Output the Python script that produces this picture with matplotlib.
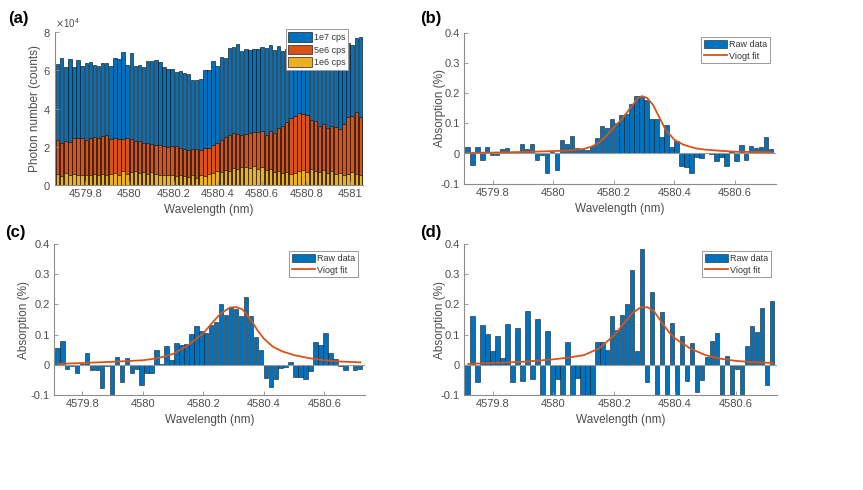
import numpy as np
import matplotlib
matplotlib.use("Agg")
import matplotlib.pyplot as plt
from matplotlib.ticker import ScalarFormatter

plt.rcParams['font.family'] = ['Liberation Sans', 'DejaVu Sans']

# ---------------- data ----------------
# panel (a): photon counts (x 1e4) on a 75-point wavelength grid
wl_a = np.linspace(4579.675, 4581.045, 75)
counts_1e7 = [6.35, 6.65, 6.2, 6.6, 6.2, 6.55, 6.25, 6.4, 6.45, 6.3,
              6.25, 6.4, 6.4, 6.25, 6.65, 6.6, 6.95, 6.3, 6.9, 6.25,
              6.3, 6.2, 6.5, 6.5, 6.55, 6.45, 6.2, 6.1, 6.1, 5.9,
              5.95, 5.85, 5.8, 5.5, 5.5, 5.55, 6.0, 6.05, 6.5, 6.25,
              6.7, 6.65, 7.2, 7.25, 7.4, 7.0, 7.1, 7.05, 7.15, 7.1,
              7.25, 7.2, 7.35, 7.05, 7.3, 7.0, 7.1, 7.05, 7.05, 6.85,
              7.2, 7.05, 7.1, 6.85, 7.0, 6.85, 7.05, 7.0, 7.25, 7.1,
              7.2, 7.45, 7.35, 7.7, 7.75]
counts_5e6 = [2.35, 2.2, 2.3, 2.25, 2.45, 2.45, 2.45, 2.35, 2.45, 2.5,
              2.45, 2.55, 2.6, 2.4, 2.45, 2.4, 2.4, 2.45, 2.4, 2.3,
              2.3, 2.2, 2.2, 2.15, 2.1, 2.1, 2.05, 2.0, 2.05, 2.05,
              1.95, 1.9, 1.85, 1.9, 1.9, 1.85, 1.95, 1.95, 2.1, 2.2,
              2.35, 2.5, 2.6, 2.7, 2.65, 2.6, 2.65, 2.75, 2.8, 2.8,
              2.85, 2.6, 2.85, 2.75, 3.0, 3.1, 3.3, 3.5, 3.6, 3.75,
              3.7, 3.65, 3.4, 3.35, 3.1, 3.2, 3.0, 3.1, 3.05, 2.95,
              3.2, 3.55, 3.6, 3.8, 3.55]
counts_1e6 = [0.6, 0.45, 0.65, 0.5, 0.6, 0.55, 0.5, 0.55, 0.55, 0.6,
              0.5, 0.6, 0.55, 0.6, 0.65, 0.55, 0.75, 0.6, 0.7, 0.75,
              0.65, 0.7, 0.6, 0.7, 0.6, 0.55, 0.5, 0.5, 0.55, 0.45,
              0.5, 0.45, 0.4, 0.5, 0.35, 0.55, 0.45, 0.6, 0.65, 0.75,
              0.7, 0.8, 0.75, 0.9, 0.85, 0.95, 0.95, 0.9, 1.0, 0.85,
              0.95, 0.8, 0.85, 0.7, 0.75, 0.65, 0.7, 0.6, 0.65, 0.75,
              0.8, 0.7, 0.85, 0.75, 0.7, 0.8, 0.65, 0.75, 0.6, 0.65,
              0.55, 0.6, 0.7, 0.6, 0.55]
SCALE = 1e4
series_a_labels = ['1e7 cps', '5e6 cps', '1e6 cps']

# panels (b)-(d): absorption (%) on a 62-point grid
wl_abs = np.linspace(4579.717, 4580.719, 62)
abs_b = [0.022, -0.038, 0.02, -0.022, 0.02, -0.005, -0.005, 0.015, 0.017, 0.005,
         0.005, 0.03, 0.015, 0.033, -0.02, -0.005, -0.065, 0.005, -0.053, 0.045,
         0.03, 0.058, 0.018, 0.015, 0.012, 0.025, 0.052, 0.09, 0.085, 0.115,
         0.1, 0.127, 0.13, 0.163, 0.19, 0.19, 0.178, 0.115, 0.115, 0.053,
         0.095, 0.02, 0.04, -0.04, -0.045, -0.065, -0.01, -0.015, 0.0, -0.002,
         -0.025, -0.012, -0.04, 0.008, -0.025, 0.027, -0.022, 0.025, 0.018, 0.022,
         0.053, 0.015]
abs_c = [0.055, 0.08, -0.015, -0.005, -0.027, 0.002, 0.04, -0.017, -0.017, -0.077,
         -0.005, -0.105, 0.027, -0.057, 0.022, -0.028, -0.013, -0.068, -0.028, -0.028,
         0.048, 0.003, 0.062, 0.015, 0.072, 0.065, 0.07, 0.103, 0.128, 0.112,
         0.105, 0.133, 0.143, 0.2, 0.165, 0.19, 0.185, 0.163, 0.225, 0.16,
         0.093, 0.05, -0.045, -0.072, -0.048, -0.012, -0.008, 0.01, -0.04, -0.042,
         -0.047, -0.022, 0.075, 0.065, 0.105, 0.04, 0.018, -0.005, -0.017, 0.0,
         -0.017, -0.013]
abs_d = [-0.12, 0.162, -0.057, 0.133, 0.103, 0.045, 0.095, 0.022, 0.135, -0.057,
         0.123, -0.055, 0.177, -0.047, 0.153, -0.12, 0.113, -0.12, -0.047, -0.12,
         0.075, -0.12, -0.045, -0.12, -0.12, -0.12, 0.075, 0.075, 0.05, 0.162,
         0.115, 0.165, 0.2, 0.315, 0.045, 0.385, -0.057, 0.24, -0.12, 0.175,
         -0.12, 0.14, -0.12, 0.095, -0.053, 0.072, -0.09, -0.05, 0.025, 0.078,
         0.105, -0.12, 0.03, -0.12, -0.015, -0.12, 0.063, 0.127, 0.108, 0.188,
         -0.068, 0.21]

# Voigt fit curves
fit_b_x = [4579.72, 4579.8, 4579.9, 4580.0, 4580.05, 4580.1, 4580.125, 4580.15, 4580.17,
           4580.2, 4580.23, 4580.26, 4580.28, 4580.293, 4580.31, 4580.33, 4580.35, 4580.37,
           4580.4, 4580.43, 4580.47, 4580.5, 4580.55, 4580.6, 4580.65, 4580.72]
fit_b_y = [0.002, 0.003, 0.005, 0.008, 0.010, 0.015, 0.022, 0.035, 0.053,
           0.085, 0.118, 0.158, 0.183, 0.190, 0.184, 0.160, 0.120, 0.080,
           0.045, 0.029, 0.017, 0.013, 0.009, 0.006, 0.005, 0.004]
fit_c_x = [4579.72, 4579.8, 4579.9, 4580.0, 4580.05, 4580.1, 4580.15, 4580.2, 4580.23,
           4580.26, 4580.29, 4580.31, 4580.33, 4580.36, 4580.38, 4580.4, 4580.43, 4580.46,
           4580.5, 4580.55, 4580.6, 4580.65, 4580.72]
fit_c_y = [0.003, 0.006, 0.010, 0.015, 0.022, 0.036, 0.065, 0.104, 0.140,
           0.172, 0.190, 0.191, 0.183, 0.145, 0.113, 0.087, 0.060, 0.045,
           0.032, 0.022, 0.015, 0.011, 0.008]
fit_d_x = [4579.72, 4579.8, 4579.9, 4580.0, 4580.05, 4580.1, 4580.15, 4580.2, 4580.23,
           4580.26, 4580.29, 4580.31, 4580.33, 4580.36, 4580.38, 4580.4, 4580.45, 4580.5,
           4580.55, 4580.6, 4580.65, 4580.72]
fit_d_y = [0.003, 0.006, 0.010, 0.018, 0.024, 0.032, 0.054, 0.098, 0.135,
           0.172, 0.192, 0.190, 0.178, 0.135, 0.108, 0.087, 0.054, 0.032,
           0.020, 0.013, 0.009, 0.006]

xticks_a = [4579.8, 4580.0, 4580.2, 4580.4, 4580.6, 4580.8, 4581.0]
xticklabels_a = ['4579.8', '4580', '4580.2', '4580.4', '4580.6', '4580.8', '4581']
xticks_abs = [4579.8, 4580.0, 4580.2, 4580.4, 4580.6]
xticklabels_abs = ['4579.8', '4580', '4580.2', '4580.4', '4580.6']
yticks_abs = [-0.1, 0.0, 0.1, 0.2, 0.3, 0.4]
yticklabels_abs = ['-0.1', '0', '0.1', '0.2', '0.3', '0.4']

# ---------------- style ----------------
BLUE = '#0072BD'
ORANGE = '#D95319'
YELLOW = '#EDB120'
TXT = '#4d4d4d'
AX = '#8c8c8c'

W, H = 863, 490
fig = plt.figure(figsize=(W / 100, H / 100), dpi=100)


def px_axes(l, t, r, b):
    return fig.add_axes([l / W, 1 - b / H, (r - l) / W, (b - t) / H])


def style(ax):
    for s in ['top', 'right']:
        ax.spines[s].set_visible(False)
    for s in ['left', 'bottom']:
        ax.spines[s].set_color(AX)
        ax.spines[s].set_linewidth(0.8)
    ax.tick_params(direction='in', length=3, width=0.6, color=AX,
                   labelcolor=TXT, labelsize=8, pad=3)


def style_legend(lg):
    fr = lg.get_frame()
    fr.set_edgecolor('#999999')
    fr.set_linewidth(0.7)
    fr.set_alpha(1.0)
    fr.set_facecolor('white')
    for t in lg.get_texts():
        t.set_color('#333333')


ax_a = px_axes(55, 32.3, 363, 185)
ax_b = px_axes(464, 32.7, 776, 183.7)
ax_c = px_axes(54, 244, 365, 395)
ax_d = px_axes(464, 244, 777, 395)

# ---- panel (a)
step_a = wl_a[1] - wl_a[0]
bw = step_a * 0.85
for vals, col, lab in zip([counts_1e7, counts_5e6, counts_1e6],
                          [BLUE, ORANGE, YELLOW], series_a_labels):
    ax_a.bar(wl_a, np.array(vals) * SCALE, width=bw, color=col,
             edgecolor='#111111', linewidth=0.45, label=lab)
ax_a.set_xlim(4579.663, 4581.057)
ax_a.set_ylim(0, 8e4)
ax_a.set_yticks([0, 2e4, 4e4, 6e4, 8e4])
fmt = ScalarFormatter(useMathText=True)
fmt.set_powerlimits((4, 4))
ax_a.yaxis.set_major_formatter(fmt)
ax_a.yaxis.get_offset_text().set_fontsize(7)
ax_a.yaxis.get_offset_text().set_color(TXT)
ax_a.set_xticks(xticks_a)
ax_a.set_xticklabels(xticklabels_a)
style(ax_a)
ax_a.set_ylabel('Photon number (counts)', fontsize=8.5, color=TXT)
ax_a.set_xlabel('Wavelength (nm)', fontsize=8.5, color=TXT)
ax_a.yaxis.set_label_coords(-0.045, 0.5)
ax_a.xaxis.set_label_coords(0.5, -0.125)
leg = ax_a.legend(loc='upper right', bbox_to_anchor=(0.951, 1.02), fontsize=6.5,
                  frameon=True, fancybox=False, framealpha=1, borderpad=0.3,
                  labelspacing=0.3, handlelength=2.6, handleheight=1.3,
                  handletextpad=0.2, borderaxespad=0)
style_legend(leg)

# ---- panels (b)-(d)
step_abs = wl_abs[1] - wl_abs[0]
for ax, vals, fx, fy, lcoord, lpos in [
        (ax_b, abs_b, fit_b_x, fit_b_y, -0.058, (0.981, 0.972)),
        (ax_c, abs_c, fit_c_x, fit_c_y, -0.077, (0.977, 0.954)),
        (ax_d, abs_d, fit_d_x, fit_d_y, -0.058, (0.981, 0.954))]:
    bars = ax.bar(wl_abs, vals, width=step_abs * 0.9, color=BLUE, edgecolor='#1a1a1a',
                  linewidth=0.4, label='Raw data')
    ax.axhline(0, color='#9a9a9a', linewidth=0.8, zorder=1.5)
    line, = ax.plot(fx, fy, color=ORANGE, linewidth=1.3, label='Viogt fit')
    ax.set_xlim(4579.706, 4580.735)
    ax.set_ylim(-0.1, 0.4)
    ax.set_xticks(xticks_abs)
    ax.set_xticklabels(xticklabels_abs)
    ax.set_yticks(yticks_abs)
    ax.set_yticklabels(yticklabels_abs)
    style(ax)
    ax.set_ylabel('Absorption (%)', fontsize=8.5, color=TXT)
    ax.set_xlabel('Wavelength (nm)', fontsize=8.5, color=TXT)
    ax.yaxis.set_label_coords(lcoord, 0.5)
    ax.xaxis.set_label_coords(0.5, -0.125)
    lg = ax.legend([bars, line], ['Raw data', 'Viogt fit'],
                   loc='upper right', bbox_to_anchor=lpos, fontsize=6.5,
                   frameon=True, fancybox=False, framealpha=1, borderpad=0.3,
                   labelspacing=0.3, handlelength=2.6, handleheight=1.0,
                   handletextpad=0.2, borderaxespad=0)
    style_legend(lg)

# panel letters
for lab, x, y in [('(a)', 8, 18), ('(b)', 420, 18), ('(c)', 5, 233), ('(d)', 420, 233)]:
    fig.text(x / W, 1 - y / H, lab, fontsize=12, fontweight='bold',
             ha='left', va='center', color='black')

fig.savefig('out.png', dpi=100)
